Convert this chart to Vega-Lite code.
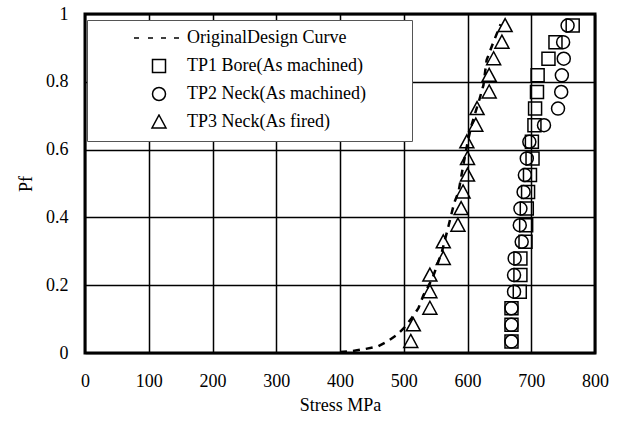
{
  "$schema": "https://vega.github.io/schema/vega-lite/v6.json",
  "width": 510,
  "height": 339,
  "autosize": {"type": "none"},
  "padding": {"left": 85, "top": 14, "right": 31, "bottom": 70},
  "background": "white",
  "config": {
    "view": {"stroke": "black", "strokeWidth": 3},
    "font": "Liberation Serif",
    "axis": {
      "grid": true,
      "gridColor": "black",
      "gridWidth": 1.5,
      "gridOpacity": 1,
      "domain": false,
      "ticks": false,
      "labelFont": "Liberation Serif",
      "labelFontSize": 18,
      "labelColor": "black",
      "labelFlush": false,
      "labelOverlap": false,
      "titleFont": "Liberation Serif",
      "titleFontSize": 18,
      "titleFontWeight": "normal",
      "titleColor": "black"
    },
    "legend": {
      "orient": "none",
      "legendX": 2,
      "legendY": 6,
      "direction": "vertical",
      "fillColor": "white",
      "strokeColor": "#555555",
      "strokeWidth": 1,
      "padding": 10,
      "rowPadding": 10,
      "clipHeight": 16,
      "symbolOffset": 36,
      "labelOffset": 2,
      "labelFont": "Liberation Serif",
      "labelFontSize": 18,
      "labelColor": "black",
      "labelLimit": 500,
      "symbolSize": 2500,
      "symbolStrokeColor": "black",
      "symbolStrokeWidth": 1.5,
      "symbolFillColor": "transparent"
    }
  },
  "datasets": {
    "curve": [
      {"stress": 400, "pf": 0.003},
      {"stress": 420, "pf": 0.006},
      {"stress": 440, "pf": 0.012},
      {"stress": 460, "pf": 0.02},
      {"stress": 475, "pf": 0.035},
      {"stress": 489, "pf": 0.053},
      {"stress": 502, "pf": 0.077},
      {"stress": 512, "pf": 0.102},
      {"stress": 523, "pf": 0.132},
      {"stress": 531, "pf": 0.171},
      {"stress": 545, "pf": 0.22},
      {"stress": 552, "pf": 0.257},
      {"stress": 560, "pf": 0.3},
      {"stress": 570, "pf": 0.373},
      {"stress": 579, "pf": 0.442},
      {"stress": 586, "pf": 0.476},
      {"stress": 593, "pf": 0.55},
      {"stress": 600, "pf": 0.62},
      {"stress": 606, "pf": 0.67},
      {"stress": 619, "pf": 0.75},
      {"stress": 625, "pf": 0.79},
      {"stress": 630, "pf": 0.864},
      {"stress": 640, "pf": 0.914},
      {"stress": 652, "pf": 0.97}
    ],
    "points": [
      {"series": "TP1 Bore(As machined)", "stress": 669, "pf": 0.034},
      {"series": "TP1 Bore(As machined)", "stress": 669, "pf": 0.083},
      {"series": "TP1 Bore(As machined)", "stress": 669, "pf": 0.132},
      {"series": "TP1 Bore(As machined)", "stress": 682, "pf": 0.181},
      {"series": "TP1 Bore(As machined)", "stress": 683, "pf": 0.23},
      {"series": "TP1 Bore(As machined)", "stress": 683, "pf": 0.279},
      {"series": "TP1 Bore(As machined)", "stress": 691, "pf": 0.328},
      {"series": "TP1 Bore(As machined)", "stress": 692, "pf": 0.377},
      {"series": "TP1 Bore(As machined)", "stress": 693, "pf": 0.426},
      {"series": "TP1 Bore(As machined)", "stress": 695, "pf": 0.475},
      {"series": "TP1 Bore(As machined)", "stress": 698, "pf": 0.525},
      {"series": "TP1 Bore(As machined)", "stress": 702, "pf": 0.574},
      {"series": "TP1 Bore(As machined)", "stress": 701, "pf": 0.623},
      {"series": "TP1 Bore(As machined)", "stress": 705, "pf": 0.672},
      {"series": "TP1 Bore(As machined)", "stress": 706, "pf": 0.721},
      {"series": "TP1 Bore(As machined)", "stress": 709, "pf": 0.77},
      {"series": "TP1 Bore(As machined)", "stress": 710, "pf": 0.819},
      {"series": "TP1 Bore(As machined)", "stress": 727, "pf": 0.868},
      {"series": "TP1 Bore(As machined)", "stress": 738, "pf": 0.917},
      {"series": "TP1 Bore(As machined)", "stress": 765, "pf": 0.966},
      {"series": "TP2 Neck(As machined)", "stress": 669, "pf": 0.034},
      {"series": "TP2 Neck(As machined)", "stress": 669, "pf": 0.083},
      {"series": "TP2 Neck(As machined)", "stress": 669, "pf": 0.132},
      {"series": "TP2 Neck(As machined)", "stress": 673, "pf": 0.181},
      {"series": "TP2 Neck(As machined)", "stress": 673, "pf": 0.23},
      {"series": "TP2 Neck(As machined)", "stress": 674, "pf": 0.279},
      {"series": "TP2 Neck(As machined)", "stress": 685, "pf": 0.328},
      {"series": "TP2 Neck(As machined)", "stress": 682, "pf": 0.377},
      {"series": "TP2 Neck(As machined)", "stress": 683, "pf": 0.426},
      {"series": "TP2 Neck(As machined)", "stress": 688, "pf": 0.475},
      {"series": "TP2 Neck(As machined)", "stress": 690, "pf": 0.525},
      {"series": "TP2 Neck(As machined)", "stress": 693, "pf": 0.574},
      {"series": "TP2 Neck(As machined)", "stress": 697, "pf": 0.623},
      {"series": "TP2 Neck(As machined)", "stress": 720, "pf": 0.672},
      {"series": "TP2 Neck(As machined)", "stress": 742, "pf": 0.721},
      {"series": "TP2 Neck(As machined)", "stress": 747, "pf": 0.77},
      {"series": "TP2 Neck(As machined)", "stress": 748, "pf": 0.819},
      {"series": "TP2 Neck(As machined)", "stress": 751, "pf": 0.868},
      {"series": "TP2 Neck(As machined)", "stress": 750, "pf": 0.917},
      {"series": "TP2 Neck(As machined)", "stress": 757, "pf": 0.966},
      {"series": "TP3 Neck(As fired)", "stress": 511, "pf": 0.034},
      {"series": "TP3 Neck(As fired)", "stress": 515, "pf": 0.083},
      {"series": "TP3 Neck(As fired)", "stress": 541, "pf": 0.132},
      {"series": "TP3 Neck(As fired)", "stress": 541, "pf": 0.181},
      {"series": "TP3 Neck(As fired)", "stress": 541, "pf": 0.23},
      {"series": "TP3 Neck(As fired)", "stress": 562, "pf": 0.279},
      {"series": "TP3 Neck(As fired)", "stress": 562, "pf": 0.328},
      {"series": "TP3 Neck(As fired)", "stress": 585, "pf": 0.377},
      {"series": "TP3 Neck(As fired)", "stress": 590, "pf": 0.426},
      {"series": "TP3 Neck(As fired)", "stress": 593, "pf": 0.475},
      {"series": "TP3 Neck(As fired)", "stress": 600, "pf": 0.525},
      {"series": "TP3 Neck(As fired)", "stress": 600, "pf": 0.574},
      {"series": "TP3 Neck(As fired)", "stress": 599, "pf": 0.623},
      {"series": "TP3 Neck(As fired)", "stress": 613, "pf": 0.672},
      {"series": "TP3 Neck(As fired)", "stress": 615, "pf": 0.721},
      {"series": "TP3 Neck(As fired)", "stress": 634, "pf": 0.77},
      {"series": "TP3 Neck(As fired)", "stress": 634, "pf": 0.819},
      {"series": "TP3 Neck(As fired)", "stress": 641, "pf": 0.868},
      {"series": "TP3 Neck(As fired)", "stress": 654, "pf": 0.917},
      {"series": "TP3 Neck(As fired)", "stress": 659, "pf": 0.966}
    ]
  },
  "layer": [
    {
      "data": {"name": "curve"},
      "mark": {"type": "line", "color": "black", "strokeWidth": 2.5, "strokeDash": [7, 6]},
      "encoding": {
        "x": {
          "field": "stress",
          "type": "quantitative",
          "scale": {"domain": [0, 800], "nice": false, "zero": false},
          "axis": {
            "values": [0, 100, 200, 300, 400, 500, 600, 700, 800],
            "title": "Stress MPa",
            "labelPadding": 19,
            "titlePadding": 6
          }
        },
        "y": {
          "field": "pf",
          "type": "quantitative",
          "scale": {"domain": [0, 1], "nice": false},
          "axis": {
            "values": [0, 0.2, 0.4, 0.6, 0.8, 1],
            "format": "~g",
            "title": "Pf",
            "labelPadding": 17,
            "titlePadding": 10
          }
        }
      }
    },
    {
      "data": {"name": "points"},
      "mark": {"type": "point", "filled": false, "color": "black", "strokeWidth": 1.5, "opacity": 1, "size": 2500},
      "encoding": {
        "x": {"field": "stress", "type": "quantitative"},
        "y": {"field": "pf", "type": "quantitative"},
        "shape": {
          "field": "series",
          "type": "nominal",
          "scale": {
            "domain": ["OriginalDesign Curve", "TP1 Bore(As machined)", "TP2 Neck(As machined)", "TP3 Neck(As fired)"],
            "range": [
              "M-1,0H-0.8M-0.44,0H-0.24M0.08,0H0.28M0.6,0H0.8",
              "M-0.26,-0.26H0.26V0.26H-0.26Z",
              "M0.26,0A0.26,0.26,0,1,1,-0.26,0A0.26,0.26,0,1,1,0.26,0Z",
              "M0,-0.28L0.28,0.24L-0.28,0.24Z"
            ]
          },
          "legend": {"title": null, "labelExpr": "datum.label + '\u00a0\u00a0\u00a0\u00a0\u00a0\u00a0\u00a0\u00a0\u200b'"}
        }
      }
    }
  ]
}
